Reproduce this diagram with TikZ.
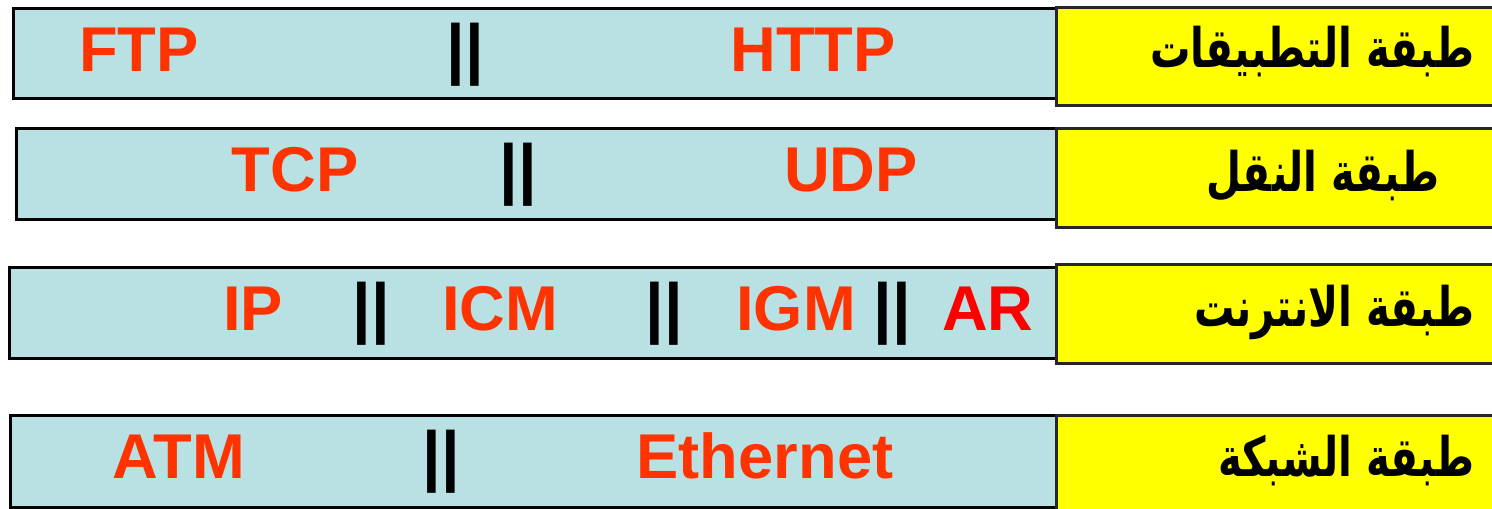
\documentclass[tikz,border=0pt]{standalone}
\usepackage{fontspec}
\setmainfont{Liberation Sans}
\newfontfamily\arabicfont[Script=Arabic]{DejaVu Sans}
\TeXXeTstate=1
\definecolor{layerCyan}{RGB}{185,224,227}
\definecolor{layerYellow}{RGB}{255,255,0}
\definecolor{protoRed}{RGB}{255,51,0}
\definecolor{arRed}{RGB}{255,0,0}
\newcommand{\layername}[1]{\scalebox{0.74}[1]{\beginR #1\endR}}

\begin{document}
\begin{tikzpicture}[
        layer/.style={rectangle, draw=black, line width=0.9pt, fill=layerCyan, anchor=north west, inner sep=0pt},
        tag/.style={rectangle, draw=black!85, line width=0.9pt, fill=layerYellow, anchor=north west, inner sep=0pt, minimum width=4.5cm},
        tagname/.style={anchor=base east, inner sep=0pt, font=\arabicfont\bfseries\fontsize{15.5}{18}\selectfont},
        proto/.style={anchor=base, inner sep=0pt, text=protoRed, font=\bfseries\fontsize{18}{22}\selectfont},
        sep/.style={anchor=base, inner sep=0pt, font=\bfseries\fontsize{19}{22}\selectfont}
    ]
        \useasboundingbox (0,0) rectangle (14.92,-5.09);
        % application layer
        \node[layer, minimum width=10.45cm, minimum height=0.9cm] (appbox) at (0.12,-0.07) {};
        \node[tag, minimum height=0.98cm] (apptag) at (10.55,-0.06) {};
        \node[tagname] (appname) at (14.75,-0.68) {\layername{طبقة التطبيقات}};
        \node[proto] (ftp) at (1.39,-0.72) {FTP};
        \node[sep] (appsep) at (4.65,-0.72) {||};
        \node[proto] (http) at (8.13,-0.72) {HTTP};
        % transport layer
        \node[layer, minimum width=10.42cm, minimum height=0.91cm] (transbox) at (0.15,-1.27) {};
        \node[tag, minimum height=0.99cm] (transtag) at (10.55,-1.27) {};
        \node[tagname] (transname) at (14.40,-1.92) {\layername{طبقة النقل}};
        \node[proto] (tcp) at (2.95,-1.92) {TCP};
        \node[sep] (transsep) at (5.18,-1.92) {||};
        \node[proto] (udp) at (8.51,-1.92) {UDP};
        % internet layer
        \node[layer, minimum width=10.49cm, minimum height=0.91cm] (netbox) at (0.08,-2.66) {};
        \node[tag, minimum height=0.99cm] (nettag) at (10.55,-2.63) {};
        \node[tagname] (netname) at (14.75,-3.27) {\layername{طبقة الانترنت}};
        \node[proto] (ip) at (2.53,-3.31) {IP};
        \node[sep] (netsepa) at (3.71,-3.31) {||};
        \node[proto] (icm) at (5.00,-3.31) {ICM};
        \node[sep] (netsepb) at (6.64,-3.31) {||};
        \node[proto] (igm) at (7.96,-3.31) {IGM};
        \node[sep] (netsepc) at (8.92,-3.31) {||};
        \node[proto, text=arRed] (ar) at (9.88,-3.31) {AR};
        % link layer
        \node[layer, minimum width=10.48cm, minimum height=0.92cm] (linkbox) at (0.09,-4.14) {};
        \node[tag, minimum height=1.0cm] (linktag) at (10.55,-4.14) {};
        \node[tagname] (linkname) at (14.75,-4.77) {\layername{طبقة الشبكة}};
        \node[proto] (atm) at (1.79,-4.79) {ATM};
        \node[sep] (linksep) at (4.41,-4.79) {||};
        \node[proto] (eth) at (7.65,-4.79) {Ethernet};
    \end{tikzpicture}
\end{document}
